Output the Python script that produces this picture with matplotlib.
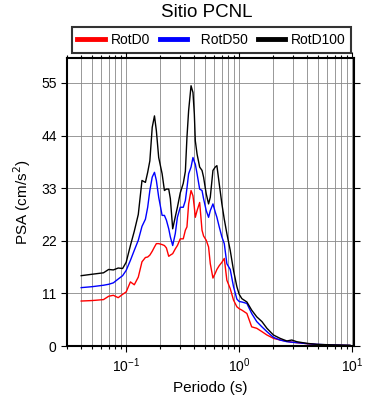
import matplotlib

matplotlib.use("Agg")
import matplotlib.pyplot as plt  # noqa: E402
from matplotlib.ticker import LogLocator, NullFormatter  # noqa: E402

plt.rcParams["font.family"] = ["Liberation Sans", "DejaVu Sans"]

# periods (s) and spectral accelerations (cm/s^2)
periodo = [
    0.040, 0.050, 0.063, 0.070, 0.077, 0.085, 0.093, 0.100, 0.109, 0.118,
    0.128, 0.138, 0.148, 0.155, 0.162, 0.170, 0.178, 0.185, 0.194, 0.208,
    0.218, 0.227, 0.238, 0.246, 0.258, 0.272, 0.284, 0.301, 0.320, 0.334,
    0.345, 0.357, 0.375, 0.390, 0.401, 0.409, 0.424, 0.447, 0.469, 0.484,
    0.511, 0.536, 0.555, 0.586, 0.614, 0.635, 0.666, 0.703, 0.738, 0.778,
    0.833, 0.891, 0.954, 1.000, 1.056, 1.170, 1.290, 1.430, 1.590, 1.760,
    2.010, 2.300, 2.640, 2.920, 3.230, 3.960, 4.850, 6.360, 9.550,
]
rotd100 = [
    14.7, 15.0, 15.3, 16.0, 15.9, 16.3, 16.2, 17.5, 21.0, 24.0,
    27.5, 34.6, 34.2, 36.3, 38.7, 45.7, 48.1, 45.0, 39.4, 36.0,
    32.5, 32.8, 32.8, 30.8, 24.5, 27.0, 29.0, 32.0, 34.0, 36.5,
    43.6, 49.2, 54.4, 53.0, 48.5, 42.9, 40.1, 37.4, 36.7, 35.3,
    31.8, 29.7, 31.1, 36.7, 37.4, 37.7, 33.9, 29.7, 26.5, 23.5,
    20.0, 15.8, 12.4, 10.8, 9.9, 9.2, 7.5, 6.1, 5.1, 3.7,
    2.3, 1.6, 1.05, 1.25, 0.9, 0.56, 0.35, 0.25, 0.15,
]
rotd50 = [
    12.2, 12.4, 12.7, 12.9, 13.2, 14.0, 14.7, 15.8, 17.9, 20.0,
    22.1, 25.0, 26.5, 29.0, 32.5, 35.3, 36.3, 34.6, 31.1, 27.3,
    27.3, 26.3, 24.5, 22.8, 21.0, 23.5, 26.9, 29.0, 29.0, 30.4,
    33.0, 36.0, 37.4, 39.4, 38.5, 38.0, 36.0, 32.8, 32.5, 30.8,
    28.3, 26.9, 28.3, 29.7, 28.0, 26.9, 24.9, 22.8, 21.4, 17.2,
    16.0, 12.4, 9.8, 9.3, 9.2, 8.9, 6.8, 5.1, 4.0, 3.0,
    1.8, 1.25, 0.9, 0.8, 0.7, 0.5, 0.35, 0.22, 0.12,
]
rotd0 = [
    9.4, 9.5, 9.7, 10.4, 10.6, 10.1, 10.8, 11.3, 13.4, 12.8,
    14.4, 17.6, 18.5, 18.6, 19.0, 19.8, 20.7, 21.4, 21.4, 21.2,
    21.0, 20.5, 18.75, 19.0, 19.3, 20.3, 21.0, 22.4, 22.4, 24.2,
    24.9, 29.7, 32.5, 31.4, 29.0, 26.9, 28.3, 30.0, 24.2, 23.0,
    22.1, 20.7, 17.2, 14.2, 15.2, 16.0, 16.8, 17.5, 18.3, 13.75,
    12.0, 9.6, 8.2, 7.8, 7.5, 6.8, 4.0, 3.7, 3.0, 2.3,
    1.6, 1.25, 1.0, 0.8, 0.7, 0.5, 0.3, 0.2, 0.1,
]
series = [("RotD0", rotd0, "#ff0000"), ("  RotD50", rotd50, "#0000ff"), ("RotD100", rotd100, "#000000")]
yticks = [0, 11, 22, 33, 44, 55]

fig = plt.figure(figsize=(3.9, 4.0), dpi=100)
ax = fig.add_axes([0.172, 0.135, 0.736, 0.72])

for name, vals, col in series:
    ax.plot(periodo, vals, color=col, lw=1.0, label=name)

ax.set_xscale("log")
ax.set_xlim(0.03, 10.4)
ax.set_ylim(0, 60.2)
ax.set_yticks(yticks)
ax.xaxis.set_minor_locator(LogLocator(base=10, subs=range(2, 10)))
ax.xaxis.set_minor_formatter(NullFormatter())
ax.grid(True, which="major", color="#888888", lw=0.6)
ax.grid(True, which="minor", axis="x", color="#888888", lw=0.6)
ax.set_axisbelow(True)

ax.tick_params(which="both", direction="out", top=True, right=True, labelsize=10, width=0.8)
ax.tick_params(which="major", length=4)
ax.tick_params(which="minor", length=2)
for s in ax.spines.values():
    s.set_linewidth(1.5)

ax.set_xlabel("Periodo (s)", fontsize=11, labelpad=4)
ax.set_ylabel("PSA (cm/s$^2$)", fontsize=11, labelpad=6)

leg = fig.legend(loc="center", bbox_to_anchor=(0.542, 0.90), ncol=3, fontsize=10,
                 frameon=True, fancybox=False, edgecolor="black", handlelength=2.0,
                 columnspacing=0.7, handletextpad=0.4, borderpad=0.4)
leg.get_frame().set_linewidth(1.5)
for h in leg.legend_handles:
    h.set_linewidth(3.5)

fig.suptitle("Sitio PCNL", fontsize=13.5, x=0.53, y=0.99)

fig.savefig("out.png", dpi=100)
